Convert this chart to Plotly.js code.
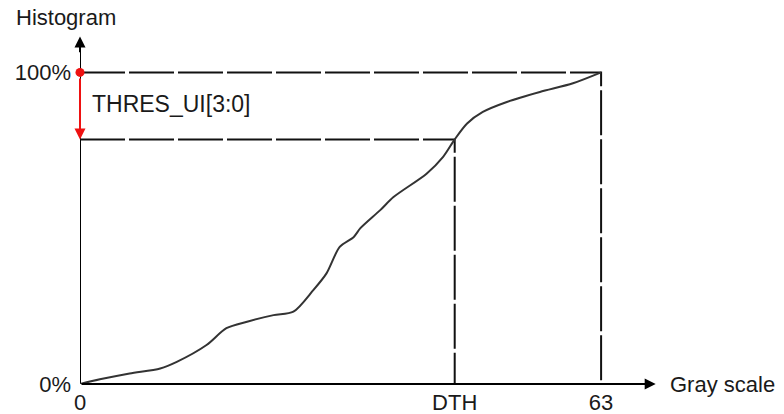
<!DOCTYPE html>
<html>
<head>
<meta charset="utf-8">
<script src="https://cdn.plot.ly/plotly-3.0.1.min.js"></script>
<style>html,body{margin:0;padding:0;background:#fff;}#chart{width:784px;height:414px;}</style>
</head>
<body>
<div id="chart"></div>
<script>
// Cumulative histogram curve (gray level vs cumulative %)
const grayLevels = [0, 2.4, 6.0, 9.7, 11.7, 15.3, 17.7, 20.2, 23.4, 25.8, 28.2, 29.8, 31.4, 33.1, 33.9, 36.3, 37.9, 41.9, 43.9, 45.3, 46.8, 48.7, 51.6, 55.6, 59.6, 63];
const cumPercent = [0, 1.5, 3.4, 5.0, 7.1, 12.5, 17.9, 20.0, 22.1, 23.2, 30.1, 35.5, 44.0, 47.2, 50.0, 55.8, 60.0, 67.5, 72.9, 78.5, 83.6, 87.3, 90.5, 93.7, 96.5, 100];

const DTH = 45.3;          // threshold gray level
const DTH_PCT = 78.5;      // cumulative % at DTH
const MAX_GRAY = 63;
const MAX_PCT = 100;

const xTickVals = [0, DTH, MAX_GRAY];
const xTickText = ['0', 'DTH', '63'];
const yTickVals = [0, MAX_PCT];
const yTickText = ['0%', '100%'];

const FONT = 'Liberation Sans, Arial, sans-serif';
const FS = 22;
const TXT = '#1a1a1a';
const DASH = '45px,4px';

const traces = [
  // y axis line (arrowhead added as annotation)
  {x: [0, 0], y: [0, 110], mode: 'lines', line: {color: '#000', width: 2}, cliponaxis: false, hoverinfo: 'skip'},
  {x: [0, MAX_GRAY, MAX_GRAY], y: [MAX_PCT, MAX_PCT, 0], mode: 'lines',
   line: {color: '#111', width: 2, dash: DASH}, cliponaxis: false, hoverinfo: 'skip'},
  {x: [0, DTH, DTH], y: [DTH_PCT, DTH_PCT, 0], mode: 'lines',
   line: {color: '#111', width: 2, dash: DASH}, cliponaxis: false, hoverinfo: 'skip'},
  {x: grayLevels, y: cumPercent, mode: 'lines',
   line: {color: '#333', width: 2, shape: 'spline', smoothing: 0.8}, cliponaxis: false, hoverinfo: 'skip'},
  {x: [0], y: [MAX_PCT], mode: 'markers',
   marker: {color: '#ee1111', size: 9}, cliponaxis: false, hoverinfo: 'skip'}
];

const layout = {
  width: 784, height: 414,
  margin: {l: 80, r: 125, t: 35, b: 30},
  paper_bgcolor: '#fff', plot_bgcolor: '#fff',
  showlegend: false,
  font: {family: FONT, size: FS, color: TXT},
  xaxis: {range: [0, 70], showgrid: false, zeroline: false, showline: false,
          tickvals: xTickVals, ticktext: xTickText, ticks: '', ticklabelstandoff: 3,
          tickfont: {family: FONT, size: FS, color: TXT}, fixedrange: true},
  yaxis: {range: [0, 112], showgrid: false, zeroline: false, showline: false,
          tickvals: yTickVals, ticktext: yTickText, ticks: '', ticklabelstandoff: 8,
          tickfont: {family: FONT, size: FS, color: TXT}, fixedrange: true},
  annotations: [
    {x: 69.6, y: 0, ax: 0, ay: 0, axref: 'x', ayref: 'y', xref: 'x', yref: 'y',
     text: '', showarrow: true, arrowhead: 2, arrowsize: 1.1, arrowwidth: 2, arrowcolor: '#000'},
    {x: 0, y: 111.5, ax: 0, ay: 106, axref: 'x', ayref: 'y', xref: 'x', yref: 'y',
     text: '', showarrow: true, arrowhead: 2, arrowsize: 1.1, arrowwidth: 2, arrowcolor: '#000'},
    {x: 0, y: DTH_PCT, ax: 0, ay: MAX_PCT - 1.5, axref: 'x', ayref: 'y', xref: 'x', yref: 'y',
     text: '', showarrow: true, arrowhead: 2, arrowsize: 1.1, arrowwidth: 2, arrowcolor: '#ee1111'},
    {x: -0.024, y: 1.049, xref: 'paper', yref: 'paper', text: 'Histogram', showarrow: false,
     xanchor: 'center', yanchor: 'middle', font: {family: FONT, size: FS, color: TXT}},
    {x: 1.015, y: 0, xref: 'paper', yref: 'paper', text: 'Gray scale', showarrow: false,
     xanchor: 'left', yanchor: 'middle', font: {family: FONT, size: FS, color: TXT}},
    {x: 1.2, y: 90, xref: 'x', yref: 'y', text: 'THRES_UI[3:0]', showarrow: false,
     xanchor: 'left', yanchor: 'middle', font: {family: FONT, size: FS + 1, color: TXT}}
  ]
};

Plotly.newPlot('chart', traces, layout, {displayModeBar: false, staticPlot: true});
</script>
</body>
</html>
